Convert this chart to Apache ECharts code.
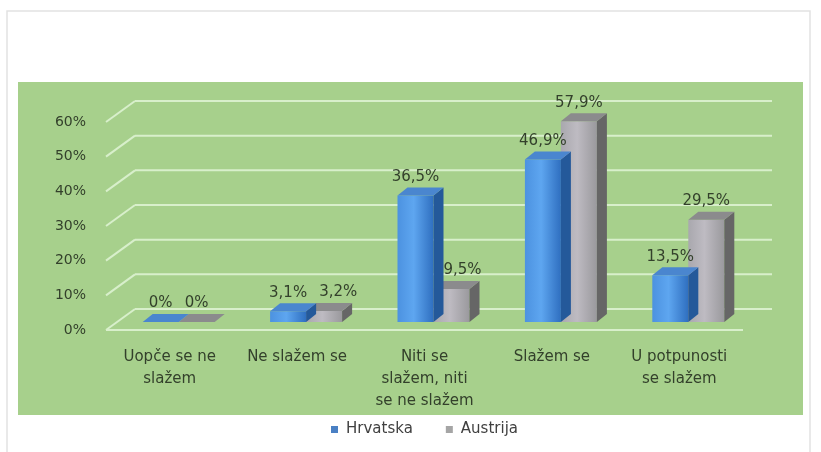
<!DOCTYPE html>
<html>
<head>
<meta charset="utf-8">
<script src="https://cdn.jsdelivr.net/npm/echarts@6/dist/echarts.min.js"></script>
<style>
  html, body { margin: 0; padding: 0; background: #fff; }
  #chart { width: 821px; height: 452px; }
</style>
</head>
<body>
<div id="chart"></div>
<script>
// podaci
var categories = ["Uopče se ne\nslažem", "Ne slažem se", "Niti se\nslažem, niti\nse ne slažem", "Slažem se", "U potpunosti\nse slažem"];
var hrvatska = [0, 3.1, 36.5, 46.9, 13.5];
var austrija = [0, 3.2, 9.5, 57.9, 29.5];
var yTicks = [0, 10, 20, 30, 40, 50, 60];

var FONT = "DejaVu Sans";
var LABEL_FONT = "15px '" + FONT + "'";
var TEXT = "#33402b";
var WALL = [29, -21];   // dubina poda / zida
var PLANE = [9, -8];    // ravnina stupaca
var DEPTH = [10, -8];   // dubina stupca
var BAR_W = 36;

var measureCtx = document.createElement("canvas").getContext("2d");
measureCtx.font = LABEL_FONT;

var faces = [
  {
    front: new echarts.graphic.LinearGradient(0, 0, 1, 0, [
      { offset: 0, color: "#4c92e0" },
      { offset: 0.45, color: "#5ea6f0" },
      { offset: 1, color: "#2f6fc0" }
    ]),
    side: "#24599a",
    top: "#4a86cf"
  },
  {
    front: new echarts.graphic.LinearGradient(0, 0, 1, 0, [
      { offset: 0, color: "#a9a8ae" },
      { offset: 0.45, color: "#bebbc2" },
      { offset: 1, color: "#9a999d" }
    ]),
    side: "#666666",
    top: "#8b8b8d"
  }
];

function fmt(v) {
  return String(v).replace(".", ",") + "%";
}

function barRenderer(sIdx) {
  return function (params, api) {
    var cat = api.value(0);
    var val = api.value(1);
    var top = api.coord([cat, val]);
    var base = api.coord([cat, 0]);
    var cx = top[0] + PLANE[0];
    var x0 = sIdx === 0 ? cx - BAR_W : cx;
    var x1 = x0 + BAR_W;
    var yb = base[1] + PLANE[1];
    var yt = top[1] + PLANE[1];
    var dx = DEPTH[0], dy = DEPTH[1];
    var f = faces[sIdx];
    var children = [];
    if (yb - yt > 0.5) {
      children.push({
        type: "rect",
        shape: { x: x0, y: yt, width: BAR_W, height: yb - yt },
        style: { fill: f.front }
      });
      children.push({
        type: "polygon",
        shape: { points: [[x1, yt], [x1 + dx, yt + dy], [x1 + dx, yb + dy], [x1, yb]] },
        style: { fill: f.side }
      });
    }
    children.push({
      type: "polygon",
      shape: { points: [[x0, yt], [x0 + dx, yt + dy], [x1 + dx, yt + dy], [x1, yt]] },
      style: { fill: f.top }
    });

    // oznaka; pomakni udesno ako je prekriva susjedni stupac ili njegova oznaka
    var lx = (x0 + x1) / 2;
    var ly = yt + dy - 3;
    if (sIdx === 1) {
      var other = hrvatska[cat];
      var oy = api.coord([cat, other])[1] + PLANE[1];
      var w0 = measureCtx.measureText(fmt(other)).width;
      var w1 = measureCtx.measureText(fmt(val)).width;
      var c0 = cx - BAR_W / 2;
      if (Math.abs(oy - yt) < 16 && c0 + w0 / 2 + 12 > lx - w1 / 2) {
        lx = c0 + w0 / 2 + 12 + w1 / 2;
      }
      if (oy + dy < ly) {
        lx = Math.max(lx, cx + dx + w1 / 2);
      }
    }
    children.push({
      type: "text",
      z2: 10,
      style: {
        text: fmt(val),
        x: lx,
        y: ly,
        align: "center",
        verticalAlign: "bottom",
        fill: TEXT,
        font: LABEL_FONT
      }
    });
    return { type: "group", children: children };
  };
}

function gridRenderer(params, api) {
  var cs = params.coordSys;
  var v = api.value(0);
  var y = api.coord([0, v])[1];
  var style = { stroke: "#d8efcb", lineWidth: 2 };
  var children = [
    { type: "line", shape: { x1: cs.x, y1: y, x2: cs.x + WALL[0], y2: y + WALL[1] }, style: style },
    { type: "line", shape: { x1: cs.x + WALL[0], y1: y + WALL[1], x2: cs.x + cs.width + WALL[0], y2: y + WALL[1] }, style: style }
  ];
  if (v === 0) {
    children.push({ type: "line", shape: { x1: cs.x, y1: y, x2: cs.x + cs.width, y2: y }, style: style });
  }
  return { type: "group", children: children };
}

var chart = echarts.init(document.getElementById("chart"));
chart.setOption({
  animation: false,
  graphic: [
    {
      type: "rect", z: 0, silent: true,
      shape: { x: 7, y: 11, width: 803, height: 460 },
      style: { fill: "#ffffff", stroke: "#e2e2e2", lineWidth: 1.5 }
    },
    {
      type: "rect", z: 0, silent: true,
      shape: { x: 18, y: 82, width: 785, height: 333 },
      style: { fill: "#a7d08c" }
    }
  ],
  grid: { left: 106, right: 78, top: 122, bottom: 122 },
  legend: {
    top: 417,
    left: 326,
    itemWidth: 7,
    itemHeight: 7,
    itemGap: 33,
    icon: "rect",
    textStyle: { fontFamily: FONT, fontSize: 15, color: "#404040", padding: [0, 0, 0, 3] },
    data: [
      { name: "Hrvatska", itemStyle: { color: "#4a80c4" } },
      { name: "Austrija", itemStyle: { color: "#a5a5a5" } }
    ]
  },
  xAxis: {
    type: "category",
    data: categories,
    axisLine: { show: false },
    axisTick: { show: false },
    axisLabel: {
      interval: 0,
      margin: 16,
      fontFamily: FONT,
      fontSize: 15,
      lineHeight: 22,
      color: TEXT
    }
  },
  yAxis: {
    type: "value",
    min: 0,
    max: 60,
    interval: 10,
    axisLine: { show: false },
    axisTick: { show: false },
    splitLine: { show: false },
    axisLabel: {
      margin: 20,
      fontFamily: FONT,
      fontSize: 14,
      color: TEXT,
      formatter: "{value}%"
    }
  },
  series: [
    {
      type: "custom",
      name: "mreža",
      silent: true,
      z: 1,
      renderItem: gridRenderer,
      data: yTicks.map(function (t) { return [t]; }),
      encode: { y: 0 }
    },
    {
      type: "custom",
      name: "Hrvatska",
      z: 3,
      renderItem: barRenderer(0),
      data: hrvatska.map(function (v, i) { return [i, v]; }),
      encode: { x: 0, y: 1 }
    },
    {
      type: "custom",
      name: "Austrija",
      z: 2,
      renderItem: barRenderer(1),
      data: austrija.map(function (v, i) { return [i, v]; }),
      encode: { x: 0, y: 1 }
    }
  ]
});
</script>
</body>
</html>
